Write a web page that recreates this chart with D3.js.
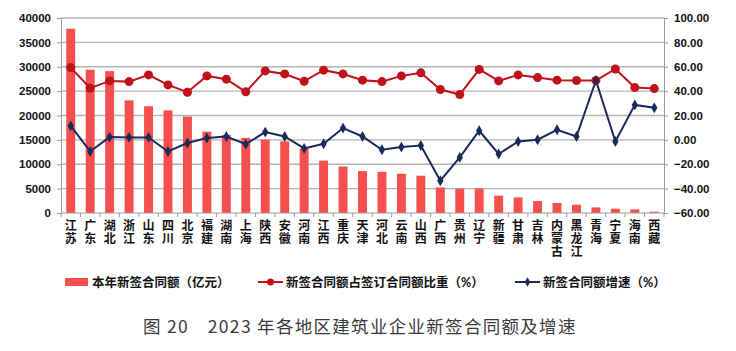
<!DOCTYPE html>
<html>
<head>
<meta charset="utf-8">
<script src="https://cdn.jsdelivr.net/npm/d3@7"></script>
<style>
  body { margin: 0; background: #fff; }
  svg { display: block; font-family: Lato, "Noto Sans CJK SC", sans-serif; }
</style>
</head>
<body>
<div id="chart"></div>
<script>
// Data
const provinces = ["江苏","广东","湖北","浙江","山东","四川","北京","福建","湖南","上海",
  "陕西","安徽","河南","江西","重庆","天津","河北","云南","山西","广西",
  "贵州","辽宁","新疆","甘肃","吉林","内蒙古","黑龙江","青海","宁夏","海南","西藏"];
const contractValue = [37800, 29400, 29100, 23100, 21900, 21050, 19800, 16700, 16000, 15400,
  15050, 14700, 13200, 10750, 9550, 8600, 8450, 8050, 7650, 5250,
  5000, 5000, 3550, 3200, 2450, 2050, 1700, 1150, 880, 740, 270];
const shareOfTotal = [59.3, 42.4, 48.4, 47.8, 53.3, 45.1, 39.1, 52.5, 49.8, 39.4,
  56.6, 54.1, 48.1, 57.2, 54.1, 49.0, 47.8, 52.5, 55.0, 41.3,
  37.2, 57.8, 48.4, 53.3, 51.1, 49.0, 48.7, 48.7, 58.2, 42.9, 42.1];
const growthRate = [11.5, -9.5, 2.3, 2.0, 2.0, -9.5, -2.6, 1.5, 2.8, -3.5,
  6.4, 2.8, -7.0, -3.2, 9.7, 2.8, -8.1, -5.9, -4.6, -33.5,
  -14.4, 7.5, -11.6, -1.3, 0.1, 8.3, 2.8, 48.7, -1.3, 28.7, 26.3];
const leftTicks = [0, 5000, 10000, 15000, 20000, 25000, 30000, 35000, 40000];
const rightTicks = [-60, -40, -20, 0, 20, 40, 60, 80, 100];
const legendLabels = ["本年新签合同额（亿元）", "新签合同额占签订合同额比重（%）", "新签合同额增速（%）"];
const title = "图 20\u30002023 年各地区建筑业企业新签合同额及增速";

const barColor = "#f6504e";
const redColor = "#c0121b";
const blueColor = "#1a2a5a";
const gridColor = "#b4b4b4";

const width = 736;
const height = 351;
const margin = {top: 18, right: 72, bottom: 138, left: 61};
const innerWidth = width - margin.left - margin.right;
const innerHeight = height - margin.top - margin.bottom;

const svg = d3.select("#chart")
  .append("svg")
    .attr("width", width)
    .attr("height", height);

const innerChart = svg
  .append("g")
    .attr("transform", `translate(${margin.left}, ${margin.top})`);

// Scales
const xScale = d3.scaleBand()
  .domain(provinces)
  .range([0, innerWidth])
  .paddingInner(0.54)
  .paddingOuter(0.27);
const yLeft = d3.scaleLinear()
  .domain([0, 40000])
  .range([innerHeight, 0]);
const yRight = d3.scaleLinear()
  .domain([-60, 100])
  .range([innerHeight, 0]);
const xCenter = d => xScale(d) + xScale.bandwidth() / 2;

// Gridlines
innerChart
  .append("g")
  .selectAll("line")
  .data(leftTicks.slice(1))
  .join("line")
    .attr("x1", 0)
    .attr("x2", innerWidth)
    .attr("y1", d => yLeft(d))
    .attr("y2", d => yLeft(d))
    .attr("stroke", gridColor)
    .attr("stroke-width", 1.3);

// Bars
innerChart
  .append("g")
  .selectAll("rect")
  .data(provinces)
  .join("rect")
    .attr("x", d => xScale(d))
    .attr("y", (d, i) => yLeft(contractValue[i]))
    .attr("width", xScale.bandwidth())
    .attr("height", (d, i) => innerHeight - yLeft(contractValue[i]))
    .attr("fill", barColor);

// Left axis
const leftAxis = d3.axisLeft(yLeft)
  .tickValues(leftTicks)
  .tickFormat(d3.format("d"))
  .tickSize(4)
  .tickPadding(6);
const leftG = innerChart.append("g").call(leftAxis);

// Right axis
const rightAxis = d3.axisRight(yRight)
  .tickValues(rightTicks)
  .tickFormat(d3.format(".2f"))
  .tickSize(4)
  .tickPadding(6);
const rightG = innerChart.append("g")
  .attr("transform", `translate(${innerWidth}, 0)`)
  .call(rightAxis);

[leftG, rightG].forEach(g => {
  g.select(".domain").attr("stroke", "#9a9a9a");
  g.selectAll(".tick line").attr("stroke", "#9a9a9a");
  g.selectAll(".tick text")
    .attr("fill", "#111")
    .style("font-size", "11.5px")
    .style("font-weight", "bold");
});

// Bottom axis: baseline with tick marks between categories
innerChart
  .append("line")
    .attr("x1", 0)
    .attr("x2", innerWidth)
    .attr("y1", innerHeight)
    .attr("y2", innerHeight)
    .attr("stroke", "#9a9a9a");
const step = xScale.step();
innerChart
  .append("g")
  .selectAll("line")
  .data(d3.range(provinces.length + 1))
  .join("line")
    .attr("x1", i => i * step)
    .attr("x2", i => i * step)
    .attr("y1", innerHeight)
    .attr("y2", innerHeight + 4)
    .attr("stroke", "#9a9a9a");

// Vertical category labels
innerChart
  .append("g")
  .selectAll("text")
  .data(provinces)
  .join("text")
    .attr("x", d => xCenter(d))
    .attr("y", innerHeight + 6)
    .style("writing-mode", "vertical-rl")
    .style("letter-spacing", "1px")
    .attr("fill", "#111")
    .style("font-family", "'Noto Sans CJK SC', sans-serif")
    .style("font-size", "12px")
    .style("font-weight", "bold")
    .text(d => d);

// Lines
const seriesLine = d3.line()
  .x((d, i) => xCenter(provinces[i]))
  .y(d => yRight(d));
innerChart
  .append("path")
    .attr("d", seriesLine(shareOfTotal))
    .attr("fill", "none")
    .attr("stroke", redColor)
    .attr("stroke-width", 2);
innerChart
  .append("path")
    .attr("d", seriesLine(growthRate))
    .attr("fill", "none")
    .attr("stroke", blueColor)
    .attr("stroke-width", 2);

innerChart
  .append("g")
  .selectAll("circle")
  .data(shareOfTotal)
  .join("circle")
    .attr("cx", (d, i) => xCenter(provinces[i]))
    .attr("cy", d => yRight(d))
    .attr("r", 4.5)
    .attr("fill", redColor);

const diamond = d3.symbol().type(d3.symbolDiamond).size(34);
innerChart
  .append("g")
  .selectAll("path")
  .data(growthRate)
  .join("path")
    .attr("d", diamond)
    .attr("transform", (d, i) => `translate(${xCenter(provinces[i])}, ${yRight(d)})`)
    .attr("fill", blueColor);

// Legend
const legendY = 282;
const legend = svg.append("g").style("font-size", "12.5px").style("font-weight", "bold");
legend.append("rect")
  .attr("x", 65).attr("y", legendY - 4)
  .attr("width", 23).attr("height", 8)
  .attr("fill", barColor);
legend.append("text")
  .attr("x", 92).attr("y", legendY + 4.5)
  .attr("fill", "#111")
  .text(legendLabels[0]);

legend.append("line")
  .attr("x1", 258).attr("x2", 283)
  .attr("y1", legendY).attr("y2", legendY)
  .attr("stroke", redColor).attr("stroke-width", 2);
legend.append("circle")
  .attr("cx", 270.5).attr("cy", legendY).attr("r", 3.5)
  .attr("fill", redColor);
legend.append("text")
  .attr("x", 286).attr("y", legendY + 4.5)
  .attr("fill", "#111")
  .text(legendLabels[1]);

legend.append("line")
  .attr("x1", 515).attr("x2", 540)
  .attr("y1", legendY).attr("y2", legendY)
  .attr("stroke", blueColor).attr("stroke-width", 2);
legend.append("path")
  .attr("d", d3.symbol().type(d3.symbolDiamond).size(26))
  .attr("transform", `translate(527.5, ${legendY})`)
  .attr("fill", blueColor);
legend.append("text")
  .attr("x", 543).attr("y", legendY + 4.5)
  .attr("fill", "#111")
  .text(legendLabels[2]);

// Title
svg.append("text")
  .attr("x", 143)
  .attr("y", 333)
  .attr("fill", "#3a3a3a")
  .style("font-family", "'Noto Sans CJK SC', sans-serif")
  .style("font-size", "17.5px")
  .style("letter-spacing", "1.3px")
  .text(title);
</script>
</body>
</html>
